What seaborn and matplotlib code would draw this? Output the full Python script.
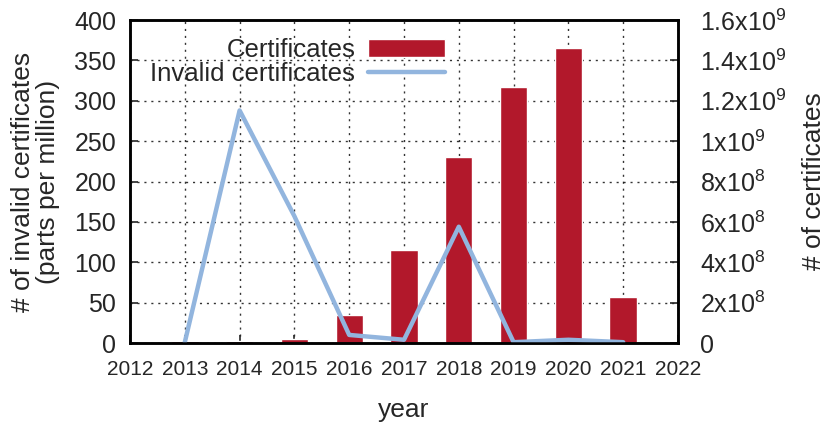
import numpy as np
import pandas as pd
import matplotlib
matplotlib.use("Agg")
import matplotlib.pyplot as plt
import seaborn as sns
from matplotlib.ticker import FuncFormatter

years = [2013, 2014, 2015, 2016, 2017, 2018, 2019, 2020, 2021]
certificates = [8e6, 1.2e7, 1.8e7, 1.4e8, 4.6e8, 9.2e8, 1.27e9, 1.46e9, 2.28e8]
invalid_ppm = [1, 288, 157, 10, 4, 144, 1, 4, 1]

bar_color = "#B2182B"
line_color = "#92B5DE"

sns.set_style("ticks")
plt.rcParams["font.family"] = ["Liberation Sans", "DejaVu Sans"]
plt.rcParams["mathtext.default"] = "regular"

df = pd.DataFrame({"year": years, "certs": certificates, "invalid": invalid_ppm})

fig = plt.figure(figsize=(8.25, 4.22), dpi=100)
ax = fig.add_axes([0.1576, 0.1872, 0.6642, 0.7654])

# bars on the primary axes (drawn first, behind the line), labelled on the right
sns.barplot(data=df, x="year", y="certs", native_scale=True, width=0.5,
            color=bar_color, saturation=1, ax=ax, label="Certificates", zorder=2)
ax.set_ylim(0, 1.6e9)
ax.set_yticks(np.arange(0, 1.61e9, 2e8))


def sci_fmt(v, pos):
    if v == 0:
        return "0"
    e = int(np.floor(np.log10(v) + 1e-9))
    m = v / 10 ** e
    ms = ("%.1f" % m).rstrip("0").rstrip(".")
    return ms + "x10$^{" + str(e) + "}$"


ax.yaxis.set_major_formatter(FuncFormatter(sci_fmt))
ax.set_axisbelow(True)
ax.grid(True, color="black", linestyle=(0, (1.5, 3.5)), linewidth=1, alpha=0.8)

ax2 = ax.twinx()
sns.lineplot(data=df, x="year", y="invalid", color=line_color, linewidth=3.2,
             ax=ax2, label="Invalid certificates")
ax2.set_ylim(0, 400)
ax2.set_yticks(np.arange(0, 401, 50))

# swap sides: counts on the right, ppm on the left
ax.yaxis.tick_right()
ax.yaxis.set_label_position("right")
ax.set_ylabel("# of certificates", fontsize=19, labelpad=11)
ax2.yaxis.tick_left()
ax2.yaxis.set_label_position("left")
ax2.set_ylabel("# of invalid certificates\n(parts per million)", fontsize=19,
               labelpad=10, linespacing=1.05)

ax.set_xlim(2012, 2022)
ax.set_xticks(range(2012, 2023))
ax.set_xlabel("year", fontsize=19, labelpad=14)

for a in (ax, ax2):
    a.tick_params(direction="in", length=6, width=1.2, labelsize=18, pad=10)
    for s in a.spines.values():
        s.set_linewidth(1.8)
        s.set_color("black")
ax.tick_params(axis="y", pad=16)
ax.tick_params(axis="x", labelsize=15, pad=12)

h1, l1 = ax.get_legend_handles_labels()
h2, l2 = ax2.get_legend_handles_labels()
if ax.get_legend():
    ax.get_legend().remove()
ax2.legend(h1 + h2, l1 + l2, loc="center right", bbox_to_anchor=(0.575, 0.87),
           frameon=False, markerfirst=False, fontsize=18.5, handlelength=3.0,
           handletextpad=0.5, labelspacing=0.0, borderpad=0, borderaxespad=0)

plt.savefig("out.png", dpi=100)
